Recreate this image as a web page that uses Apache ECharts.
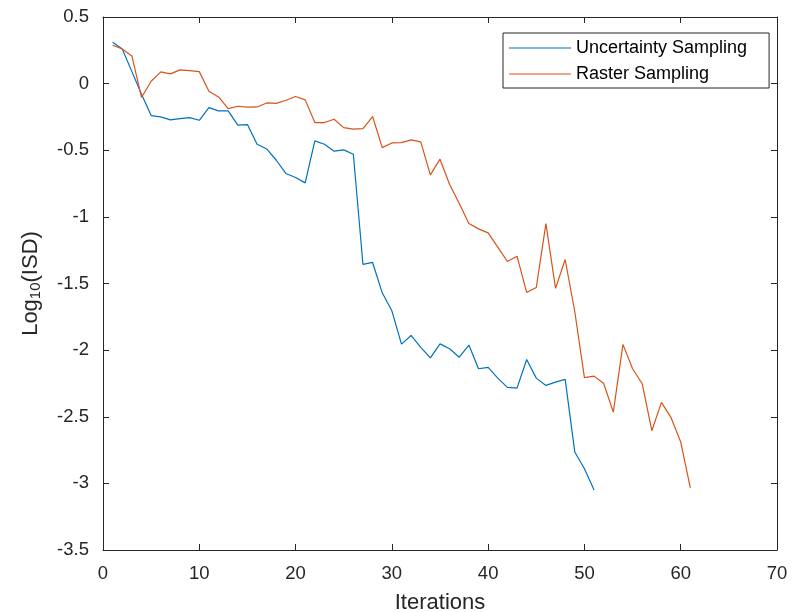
<!DOCTYPE html>
<html>
<head>
<meta charset="utf-8">
<script src="https://cdn.jsdelivr.net/npm/echarts@6/dist/echarts.min.js"></script>
<style>html,body{margin:0;padding:0;background:#fff;}#c{width:800px;height:612px;}</style>
</head>
<body>
<div id="c"></div>
<script>
const iterUnc = [1,2,3,4,5,6,7,8,9,10,11,12,13,14,15,16,17,18,19,20,21,22,23,24,25,26,27,28,29,30,31,32,33,34,35,36,37,38,39,40,41,42,43,44,45,46,47,48,49,50,51];
const uncertainty = [0.31,0.26,0.09,-0.08,-0.24,-0.25,-0.272,-0.262,-0.255,-0.275,-0.18,-0.205,-0.205,-0.312,-0.307,-0.455,-0.49,-0.575,-0.675,-0.705,-0.745,-0.43,-0.455,-0.507,-0.497,-0.53,-1.357,-1.342,-1.57,-1.705,-1.955,-1.89,-1.98,-2.058,-1.953,-1.99,-2.053,-1.962,-2.14,-2.13,-2.21,-2.28,-2.285,-2.07,-2.21,-2.265,-2.24,-2.22,-2.765,-2.89,-3.05];
const iterRas = [1,2,3,4,5,6,7,8,9,10,11,12,13,14,15,16,17,18,19,20,21,22,23,24,25,26,27,28,29,30,31,32,33,34,35,36,37,38,39,40,41,42,43,44,45,46,47,48,49,50,51,52,53,54,55,56,57,58,59,60,61];
const raster = [0.288,0.26,0.208,-0.104,0.018,0.088,0.073,0.103,0.098,0.09,-0.057,-0.1,-0.187,-0.17,-0.177,-0.175,-0.145,-0.148,-0.125,-0.097,-0.122,-0.292,-0.292,-0.267,-0.33,-0.342,-0.337,-0.247,-0.48,-0.445,-0.443,-0.422,-0.437,-0.685,-0.567,-0.757,-0.9,-1.05,-1.09,-1.12,-1.227,-1.335,-1.295,-1.567,-1.53,-1.05,-1.537,-1.32,-1.712,-2.207,-2.195,-2.25,-2.465,-1.957,-2.14,-2.252,-2.605,-2.392,-2.507,-2.69,-3.033];
const seriesNames = ['Uncertainty Sampling','Raster Sampling'];

const axisColor = '#262626';
const font = 'Liberation Sans';
const chart = echarts.init(document.getElementById('c'), null, {renderer:'canvas'});
const baseX = {min:0,max:70,interval:10,splitLine:{show:false},
  axisLine:{show:true,onZero:false,lineStyle:{color:axisColor,width:1}},
  axisTick:{show:true,inside:true,length:6,lineStyle:{color:axisColor}}};
const baseY = {min:-3.5,max:0.5,interval:0.5,splitLine:{show:false},
  axisLine:{show:true,onZero:false,lineStyle:{color:axisColor,width:1}},
  axisTick:{show:true,inside:true,length:6,lineStyle:{color:axisColor}}};
chart.setOption({
  animation:false,
  backgroundColor:'#fff',
  grid:{left:103,right:23,top:17,bottom:62,containLabel:false,outerBoundsMode:'none'},
  xAxis:[
    Object.assign({type:'value',position:'bottom',name:'Iterations',nameLocation:'middle',nameGap:42,
      nameTextStyle:{fontFamily:font,fontSize:22,color:axisColor},
      axisLabel:{fontFamily:font,fontSize:18.5,color:axisColor,margin:14}}, baseX),
    Object.assign({type:'value',position:'top',axisLabel:{show:false}}, baseX)
  ],
  yAxis:[
    Object.assign({type:'value',position:'left',name:'{a|Log}{s|10}{a|(ISD)}',nameLocation:'middle',nameGap:60,nameRotate:90,
      nameTextStyle:{rich:{a:{fontFamily:font,fontSize:22,color:axisColor},s:{fontFamily:font,fontSize:15,color:axisColor,verticalAlign:'bottom',padding:[10,0,0,0]}}},
      axisLabel:{fontFamily:font,fontSize:18.5,color:axisColor,margin:14}}, baseY),
    Object.assign({type:'value',position:'right',axisLabel:{show:false}}, baseY)
  ],
  legend:{
    orient:'vertical',left:503,top:33,
    data:seriesNames.map(n=>({name:n,icon:'rect'})),
    backgroundColor:'#fff',borderColor:axisColor,borderWidth:1,
    padding:[5,22,4,6],itemGap:6,itemWidth:62,itemHeight:1,
    textStyle:{fontFamily:font,fontSize:18,color:'#000',lineHeight:20}
  },
  series:[
    {name:seriesNames[0],type:'line',xAxisIndex:0,yAxisIndex:0,symbol:'none',
      data:iterUnc.map((x,i)=>[x,uncertainty[i]]),lineStyle:{color:'#0072BD',width:1.2},itemStyle:{color:'#0072BD'}},
    {name:seriesNames[1],type:'line',xAxisIndex:0,yAxisIndex:0,symbol:'none',
      data:iterRas.map((x,i)=>[x,raster[i]]),lineStyle:{color:'#D95319',width:1.2},itemStyle:{color:'#D95319'}}
  ]
});
</script>
</body>
</html>
